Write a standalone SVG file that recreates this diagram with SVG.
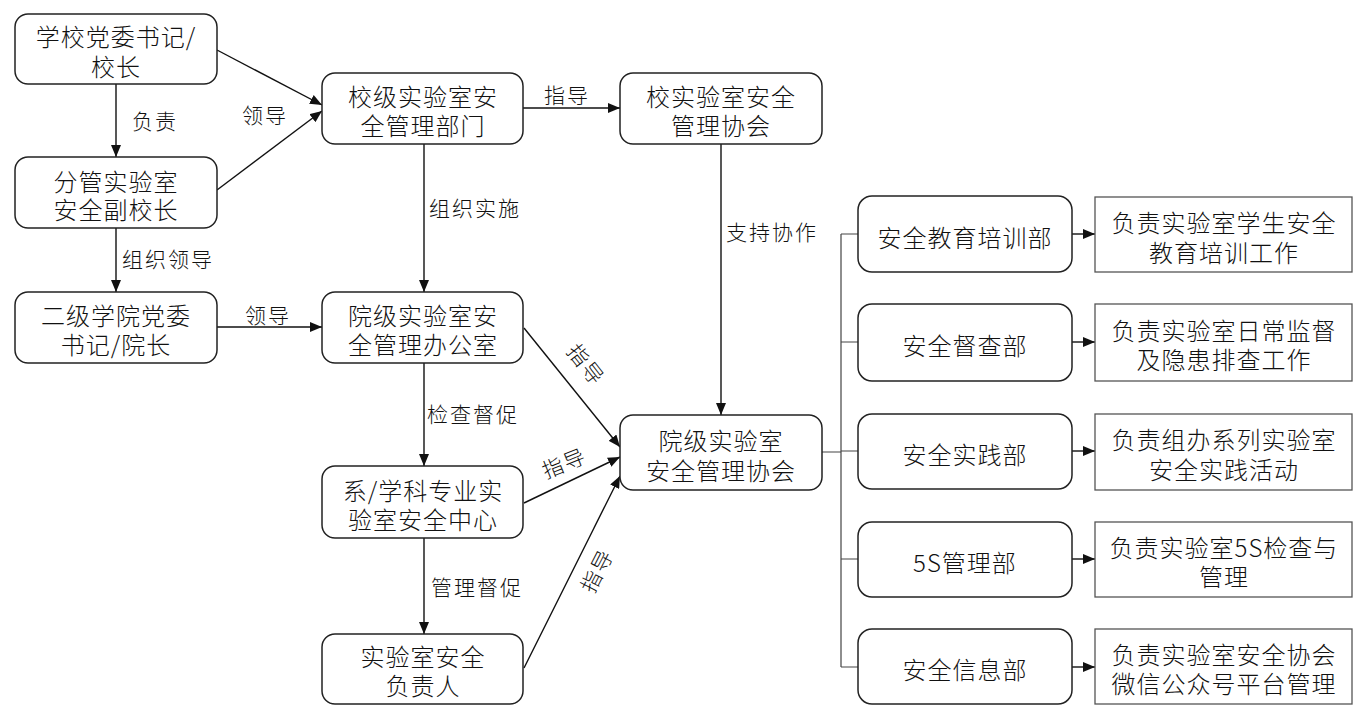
<svg xmlns="http://www.w3.org/2000/svg" width="1362" height="708" viewBox="0 0 1362 708">
<defs>
<marker id="ah" markerUnits="userSpaceOnUse" markerWidth="12" markerHeight="10" refX="12" refY="5" orient="auto">
<path d="M0,0 L12,5 L0,10 z" fill="#111"/>
</marker>
<style>
.rb{fill:#fff;stroke:#222;stroke-width:1.5}
.rr{fill:#fff;stroke:#555;stroke-width:1.3}
.t{font-family:"Noto Sans CJK SC","Noto Sans",sans-serif;font-size:24px;font-weight:300;letter-spacing:1px;fill:#111;text-anchor:middle;dominant-baseline:central}
.l{font-family:"Noto Sans CJK SC","Noto Sans",sans-serif;font-size:21px;font-weight:300;letter-spacing:2px;fill:#111;text-anchor:middle;dominant-baseline:central}
.c{fill:none;stroke:#111;stroke-width:1.4}
.g{fill:none;stroke:#444;stroke-width:1.2}
</style>
</defs>
<rect width="1362" height="708" fill="#fff"/>
<g id="connectors">
<line class="c" x1="116" y1="84" x2="116" y2="157" marker-end="url(#ah)"/>
<line class="c" x1="116" y1="228" x2="116" y2="292" marker-end="url(#ah)"/>
<line class="c" x1="217" y1="50" x2="322" y2="105" marker-end="url(#ah)"/>
<line class="c" x1="217" y1="190" x2="322" y2="111" marker-end="url(#ah)"/>
<line class="c" x1="217" y1="327" x2="322" y2="327" marker-end="url(#ah)"/>
<line class="c" x1="523" y1="108" x2="620" y2="108" marker-end="url(#ah)"/>
<line class="c" x1="424" y1="144" x2="424" y2="292" marker-end="url(#ah)"/>
<line class="c" x1="721" y1="144" x2="721" y2="415" marker-end="url(#ah)"/>
<line class="c" x1="424" y1="363" x2="424" y2="466" marker-end="url(#ah)"/>
<line class="c" x1="424" y1="538" x2="424" y2="634" marker-end="url(#ah)"/>
<line class="c" x1="524" y1="328" x2="620" y2="447" marker-end="url(#ah)"/>
<line class="c" x1="524" y1="503" x2="620" y2="457" marker-end="url(#ah)"/>
<line class="c" x1="524" y1="668" x2="620" y2="476" marker-end="url(#ah)"/>
<path class="g" d="M822,452 H841 M841,234 V667 M841,234 H858 M841,342 H858 M841,451 H858 M841,559 H858 M841,667 H858"/>
<line class="c" x1="1072" y1="234" x2="1095" y2="234" marker-end="url(#ah)"/>
<line class="c" x1="1072" y1="342" x2="1095" y2="342" marker-end="url(#ah)"/>
<line class="c" x1="1072" y1="451" x2="1095" y2="451" marker-end="url(#ah)"/>
<line class="c" x1="1072" y1="559" x2="1095" y2="559" marker-end="url(#ah)"/>
<line class="c" x1="1072" y1="667" x2="1095" y2="667" marker-end="url(#ah)"/>
<text class="l" x="155" y="120">负责</text>
<text class="l" x="265" y="114">领导</text>
<text class="l" x="168" y="258">组织领导</text>
<text class="l" x="268" y="314">领导</text>
<text class="l" x="567" y="94">指导</text>
<text class="l" x="475" y="207">组织实施</text>
<text class="l" x="772" y="231">支持协作</text>
<text class="l" x="473" y="413">检查督促</text>
<text class="l" x="477" y="586">管理督促</text>
<text class="l" x="587" y="364" transform="rotate(52 587 364)">指导</text>
<text class="l" x="564" y="462" transform="rotate(-22 564 462)">指导</text>
<text class="l" x="596" y="570" transform="rotate(-63 596 570)">指导</text>
</g>
<g id="nA"><rect class="rb" x="15" y="14" width="202" height="70" rx="13"/><text class="t"><tspan x="116" y="35">学校党委书记/</tspan><tspan x="116" y="65">校长</tspan></text></g>
<g id="nB"><rect class="rb" x="15" y="157" width="202" height="71" rx="13"/><text class="t"><tspan x="116" y="180">分管实验室</tspan><tspan x="116" y="208">安全副校长</tspan></text></g>
<g id="nC"><rect class="rb" x="15" y="292" width="202" height="71" rx="13"/><text class="t"><tspan x="116" y="314">二级学院党委</tspan><tspan x="116" y="343">书记/院长</tspan></text></g>
<g id="nD"><rect class="rb" x="322" y="73" width="201" height="71" rx="13"/><text class="t"><tspan x="423" y="95">校级实验室安</tspan><tspan x="423" y="124">全管理部门</tspan></text></g>
<g id="nH"><rect class="rb" x="620" y="73" width="202" height="71" rx="13"/><text class="t"><tspan x="721" y="95">校实验室安全</tspan><tspan x="721" y="124">管理协会</tspan></text></g>
<g id="nE"><rect class="rb" x="322" y="292" width="201" height="71" rx="13"/><text class="t"><tspan x="423" y="314">院级实验室安</tspan><tspan x="423" y="343">全管理办公室</tspan></text></g>
<g id="nF"><rect class="rb" x="322" y="466" width="201" height="72" rx="13"/><text class="t"><tspan x="423" y="489">系/学科专业实</tspan><tspan x="423" y="518">验室安全中心</tspan></text></g>
<g id="nG"><rect class="rb" x="322" y="634" width="201" height="70" rx="13"/><text class="t"><tspan x="423" y="655">实验室安全</tspan><tspan x="423" y="684">负责人</tspan></text></g>
<g id="nI"><rect class="rb" x="620" y="415" width="202" height="75" rx="13"/><text class="t"><tspan x="721" y="439">院级实验室</tspan><tspan x="721" y="469">安全管理协会</tspan></text></g>
<g id="nJ1"><rect class="rb" x="858" y="196" width="214" height="76" rx="14"/><text class="t" x="965" y="236">安全教育培训部</text></g>
<g id="nJ2"><rect class="rb" x="858" y="304" width="214" height="77" rx="14"/><text class="t" x="965" y="344">安全督查部</text></g>
<g id="nJ3"><rect class="rb" x="858" y="414" width="214" height="75" rx="14"/><text class="t" x="965" y="453">安全实践部</text></g>
<g id="nJ4"><rect class="rb" x="858" y="522" width="214" height="75" rx="14"/><text class="t" x="965" y="561">5S管理部</text></g>
<g id="nJ5"><rect class="rb" x="858" y="629" width="214" height="75" rx="14"/><text class="t" x="965" y="668">安全信息部</text></g>
<g id="nK1"><rect class="rr" x="1095" y="197" width="257" height="75"/><text class="t"><tspan x="1224" y="221">负责实验室学生安全</tspan><tspan x="1224" y="251">教育培训工作</tspan></text></g>
<g id="nK2"><rect class="rr" x="1095" y="304" width="257" height="77"/><text class="t"><tspan x="1224" y="329">负责实验室日常监督</tspan><tspan x="1224" y="358">及隐患排查工作</tspan></text></g>
<g id="nK3"><rect class="rr" x="1095" y="414" width="257" height="76"/><text class="t"><tspan x="1224" y="438">负责组办系列实验室</tspan><tspan x="1224" y="468">安全实践活动</tspan></text></g>
<g id="nK4"><rect class="rr" x="1095" y="522" width="257" height="75"/><text class="t"><tspan x="1224" y="546">负责实验室5S检查与</tspan><tspan x="1224" y="575">管理</tspan></text></g>
<g id="nK5"><rect class="rr" x="1095" y="629" width="257" height="75"/><text class="t"><tspan x="1224" y="653">负责实验室安全协会</tspan><tspan x="1224" y="682">微信公众号平台管理</tspan></text></g>
</svg>
